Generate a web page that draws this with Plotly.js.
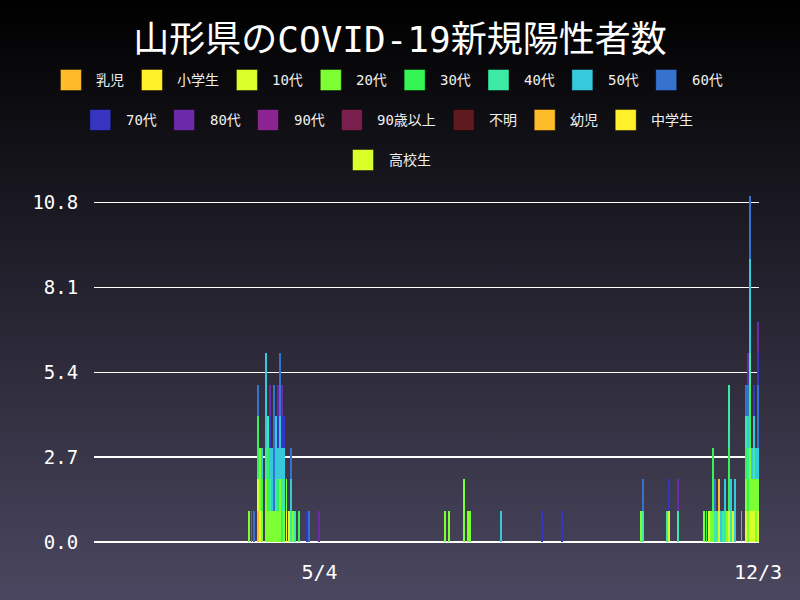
<!DOCTYPE html>
<html>
<head>
<meta charset="utf-8">
<script src="https://cdn.plot.ly/plotly-3.0.1.min.js"></script>
<style>
  html, body { margin: 0; padding: 0; }
  body { width: 800px; height: 600px; background: linear-gradient(#000000, #4b4760); }
  #chart { width: 800px; height: 600px; }
</style>
</head>
<body>
<div id="chart"></div>
<script>

// days with at least one case (2020)
var days = [
  '3/31','4/1','4/2','4/4','4/5','4/6','4/8','4/9','4/10','4/11','4/12','4/13','4/14',
  '4/15','4/16','4/17','4/18','4/19','4/20','4/21','4/22','4/24','4/28','4/29','5/4',
  '7/4','7/6','7/13','7/15','7/16','7/31','8/20','8/30','10/7','10/8','10/20','10/21','10/25',
  '11/7','11/8','11/9','11/10','11/11','11/12','11/13','11/14','11/15','11/16','11/17','11/18',
  '11/19','11/20','11/21','11/22','11/25','11/27','11/28','11/29','11/30','12/1','12/2','12/3'
];

// one array per age group, aligned with days (april | summer/autumn | november)
var nyuji     = [0,0,0,1,0,0,0,0,0,0,0,0,0,0,0,0,0,0,0,0,0,0,0,0,0,  0,0,0,0,0,0,0,0,0,0,0,0,0,  0,0,0,0,0,0,0,0,0,0,0,0,0,0,0,0,0,0,0,0,0,0,0,0];
var shogaku   = [0,0,0,0,0,0,0,0,0,0,0,0,0,0,0,0,1,0,0,0,0,0,0,0,0,  0,0,0,0,0,0,0,0,0,0,0,0,0,  0,0,0,0,0,0,0,0,0,0,0,0,0,0,0,0,0,0,0,0,0,0,0,0];
var age10     = [0,0,0,1,1,0,0,0,0,0,0,0,0,0,0,0,0,1,0,0,0,0,0,0,0,  0,0,0,0,0,0,0,0,0,0,0,1,0,  0,0,1,0,0,0,0,1,0,0,0,0,1,0,1,0,0,1,0,1,1,1,0,1];
var age20     = [1,0,0,0,2,1,2,1,1,1,1,1,1,2,0,1,1,0,0,1,0,0,0,0,0,  1,1,2,1,1,0,0,0,1,0,0,0,0,  1,0,0,1,1,0,0,0,0,0,0,1,0,0,0,0,0,1,1,2,1,1,2,1];
var age30     = [0,0,0,2,0,1,0,2,0,0,0,0,1,0,1,0,0,0,0,0,0,1,0,0,0,  0,0,0,0,0,0,0,0,0,0,0,0,0,  0,1,0,0,2,0,0,0,0,0,0,0,2,0,0,0,0,1,1,2,0,0,0,0];
var age40     = [0,0,0,0,0,0,1,1,1,0,0,1,0,0,1,1,0,0,1,0,1,0,0,0,0,  0,0,0,0,0,0,0,0,0,1,1,0,1,  0,0,0,0,0,1,1,0,0,1,1,0,2,1,0,0,0,1,1,1,0,1,0,0];
var age50     = [0,0,0,0,0,1,3,0,1,2,0,2,1,2,1,1,0,0,1,0,0,0,0,0,0,  0,0,0,0,0,1,0,0,0,0,0,0,0,  0,0,0,0,0,0,0,0,1,0,1,0,0,1,0,2,1,0,1,3,1,1,1,1];
var age60     = [0,1,1,1,0,0,0,0,0,0,4,0,0,2,0,0,0,0,1,0,0,0,0,1,0,  0,0,0,0,0,0,0,0,0,1,0,0,0,  0,0,0,0,0,1,0,0,0,0,0,0,0,0,0,0,0,1,1,2,0,0,0,2];
var age70     = [0,0,0,0,0,0,0,0,1,0,0,0,1,0,1,1,0,0,0,0,0,0,1,0,0,  0,0,0,0,0,0,1,1,0,0,0,1,0,  0,0,0,0,0,0,0,0,0,0,0,0,0,0,0,0,0,0,0,0,0,1,0,1];
var age80     = [0,0,0,0,0,0,0,0,1,0,0,0,1,0,1,0,0,0,0,0,0,0,0,0,1,  0,0,0,0,0,0,0,0,0,0,0,0,1,  0,0,0,0,0,0,0,0,0,0,0,0,0,0,0,0,0,0,1,0,0,0,0,1];
var age90     = [0,0,0,0,0,0,0,0,0,0,0,0,0,0,0,0,0,0,0,0,0,0,0,0,0,  0,0,0,0,0,0,0,0,0,0,0,0,0,  0,0,0,0,0,0,0,0,0,0,0,0,0,0,0,0,0,0,0,0,0,0,0,0];
var over90    = [0,0,0,0,0,0,0,0,0,0,0,0,0,0,0,0,0,0,0,0,0,0,0,0,0,  0,0,0,0,0,0,0,0,0,0,0,0,0,  0,0,0,0,0,0,0,0,0,0,0,0,0,0,0,0,0,0,0,0,0,0,0,0];
var unknown   = [0,0,0,0,0,0,0,0,0,0,0,0,0,0,0,0,0,0,0,0,0,0,0,0,0,  0,0,0,0,0,0,0,0,0,0,0,0,0,  0,0,0,0,0,0,0,0,0,0,0,0,0,0,0,0,0,0,0,0,0,0,0,0];
var yoji      = [0,0,0,0,0,0,0,0,0,0,0,0,0,0,0,0,0,0,0,0,0,0,0,0,0,  0,0,0,0,0,0,0,0,0,0,0,0,0,  0,0,0,0,0,0,0,1,0,0,0,0,0,0,0,0,0,0,0,0,0,0,0,0];
var chugaku   = [0,0,0,0,0,0,0,0,0,0,0,0,0,0,0,0,0,0,0,0,0,0,0,0,0,  0,0,0,0,0,0,0,0,0,0,0,0,0,  0,0,0,0,0,0,0,0,0,0,0,0,0,0,0,0,0,0,0,0,0,0,0,0];
var koko      = [0,0,0,0,0,0,0,0,0,0,0,0,0,0,0,0,0,0,0,0,0,0,0,0,0,  0,0,0,0,0,0,0,0,0,0,0,0,0,  0,0,0,0,0,0,0,0,0,0,0,0,0,0,0,0,0,0,0,0,0,0,0,0];

var names  = ['乳児','小学生','10代','20代','30代','40代','50代','60代','70代','80代','90代','90歳以上','不明','幼児','中学生','高校生'];
var series = [nyuji, shogaku, age10, age20, age30, age40, age50, age60, age70, age80, age90, over90, unknown, yoji, chugaku, koko];
var colors = ['#ffbb29','#fff02a','#d8ff2a','#7dff33','#34f553','#3aeaa5','#36c9dc','#3573cf',
              '#3634c0','#6c2aa8','#8b2390','#7a1e4e','#5e1a1e','#ffbb29','#fff02a','#d8ff2a'];

var tickDays  = ['2020-05-04','2020-12-03'];
var tickTexts = ['5/4','12/3'];
var yTicks    = [0, 2.7, 5.4, 8.1, 10.8];

var monoFont = '"DejaVu Sans Mono", "Noto Sans CJK JP", monospace';

function isoDate(md) {
  var p = md.split('/');
  return '2020-' + ('0' + p[0]).slice(-2) + '-' + ('0' + p[1]).slice(-2);
}
var xDates = days.map(isoDate);

var DAY = 86400000;
var traces = [];
for (var s = 0; s < series.length; s++) {
  traces.push({
    type: 'bar',
    name: names[s],
    x: xDates,
    y: series[s],
    width: DAY * 0.95,
    marker: { color: colors[s], line: { width: 0 } },
    hoverinfo: 'skip',
    showlegend: false
  });
}

// plot area in pixels
var L = 94, R = 41, T = 196, B = 58;
var plotW = 800 - L - R, plotH = 600 - T - B;
function px2x(px) { return (px - L) / plotW; }
function px2y(py) { return (600 - B - py) / plotH; }

// legend drawn by hand: big square swatches, rows 40px apart
var ctx = document.createElement('canvas').getContext('2d');
ctx.font = '14px ' + monoFont;
var rows = [[0,1,2,3,4,5,6,7],[8,9,10,11,12,13,14],[15]];
var rowY = [80, 120, 160];
var shapes = [], annotations = [];
rows.forEach(function(row, r) {
  var widths = row.map(function(k) { return 34 + ctx.measureText(names[k]).width + 19; });
  var total = widths.reduce(function(a, b) { return a + b; }, 0);
  var x = 400 - total / 2;
  row.forEach(function(k, j) {
    shapes.push({
      type: 'rect', xref: 'paper', yref: 'paper', layer: 'above',
      x0: px2x(x), x1: px2x(x + 21), y0: px2y(rowY[r] + 10.5), y1: px2y(rowY[r] - 10.5),
      fillcolor: colors[k], line: { width: 0.8, color: 'rgba(0,0,0,0.5)' }
    });
    annotations.push({
      xref: 'paper', yref: 'paper', x: px2x(x + 34), y: px2y(rowY[r]),
      xanchor: 'left', yanchor: 'middle', showarrow: false,
      text: names[k], font: { family: monoFont, size: 14, color: '#f0f0f0' }
    });
    x += widths[j];
  });
});

var layout = {
  width: 800,
  height: 600,
  paper_bgcolor: 'rgba(0,0,0,0)',
  plot_bgcolor: 'rgba(0,0,0,0)',
  margin: { l: L, r: R, t: T, b: B, pad: 0 },
  barmode: 'stack',
  bargap: 0,
  showlegend: false,
  title: {
    text: '山形県のCOVID-19新規陽性者数',
    font: { family: monoFont, size: 36, color: '#ffffff' },
    x: 0.5, xanchor: 'center',
    y: 1 - 39 / 600, yref: 'container', yanchor: 'middle'
  },
  xaxis: {
    type: 'date',
    range: ['2020-01-15 12:00', '2020-12-03 12:00'],
    tickvals: tickDays,
    ticktext: tickTexts,
    showgrid: false,
    zeroline: false,
    showline: false,
    ticks: 'outside', ticklen: 12, tickcolor: 'rgba(0,0,0,0)',
    tickfont: { family: monoFont, size: 20, color: '#ffffff' },
    fixedrange: true
  },
  yaxis: {
    range: [0, 11],
    tickvals: yTicks,
    ticktext: yTicks.map(function(v) { return v.toFixed(1); }),
    showgrid: true,
    gridcolor: '#ffffff',
    gridwidth: 1.2,
    zeroline: true,
    zerolinecolor: '#ffffff',
    zerolinewidth: 1.2,
    showline: false,
    ticks: 'outside', ticklen: 11, tickcolor: 'rgba(0,0,0,0)',
    tickfont: { family: monoFont, size: 19, color: '#ffffff' },
    fixedrange: true
  },
  shapes: shapes,
  annotations: annotations
};

Plotly.newPlot('chart', traces, layout, {displayModeBar: false, staticPlot: true});
</script>
</body>
</html>
